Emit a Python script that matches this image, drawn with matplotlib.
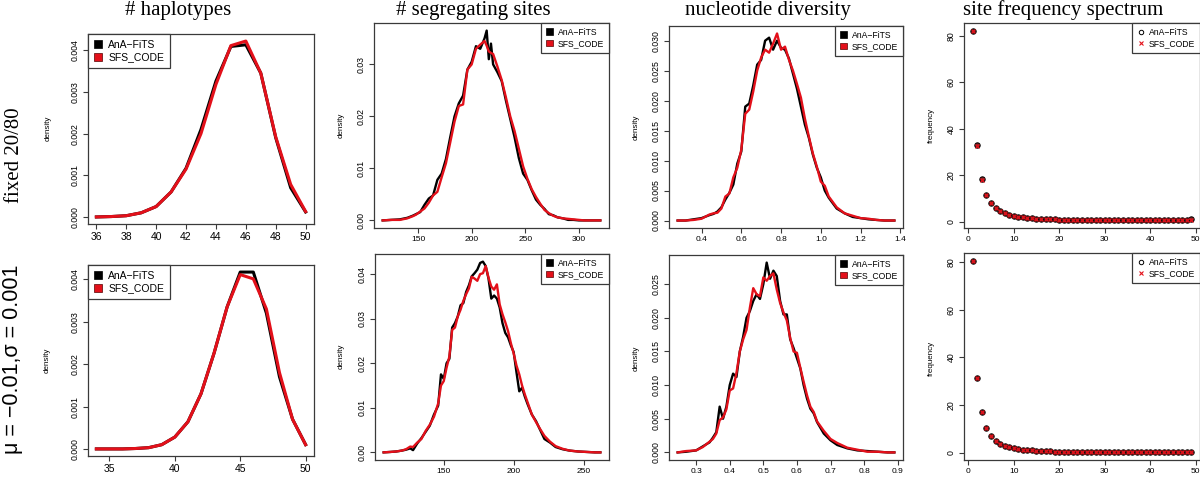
import numpy as np
import matplotlib
matplotlib.use("Agg")
import matplotlib.pyplot as plt
from matplotlib.patches import Patch
from matplotlib.lines import Line2D
from matplotlib.ticker import FormatStrFormatter

plt.rcParams['font.family'] = ['Liberation Sans', 'DejaVu Sans']

RED = '#e3101a'
W, H = 1200, 478

# ---- row 1: fixed 20/80 ----
hap1_x = [36, 37, 38, 39, 40, 41, 42, 43, 44, 45, 46, 47, 48, 49, 50]
hap1_ana = [0.0, 0.00001, 0.00003, 0.0001, 0.00025, 0.0006, 0.00117, 0.0021, 0.00326,
            0.00409, 0.00413, 0.00345, 0.0019, 0.0007, 0.00012]
hap1_sfs = [0.0, 0.00001, 0.00003, 0.0001, 0.00025, 0.0006, 0.00115, 0.0020, 0.00318,
            0.00411, 0.00422, 0.00345, 0.00192, 0.00078, 0.00013]

seg1_x = [117, 125, 133, 140, 145, 148, 152, 156, 160, 164, 168, 172, 176, 180, 184, 188,
          192, 196, 200, 204, 208, 212, 214, 216, 218, 220, 224, 228, 232, 236, 240, 244,
          248, 252, 256, 260, 264, 268, 272, 276, 280, 285, 290, 295, 300, 305, 310, 315, 320]
seg1_ana = [0.0, 0.0001, 0.0002, 0.0005, 0.0009, 0.0012, 0.0016, 0.0030, 0.0042, 0.0048,
            0.0078, 0.0090, 0.0118, 0.0160, 0.0200, 0.0225, 0.0240, 0.0290, 0.0305, 0.0335,
            0.0330, 0.0350, 0.0365, 0.0310, 0.0340, 0.0300, 0.0285, 0.0268, 0.0230, 0.0195,
            0.0160, 0.0120, 0.0090, 0.0078, 0.0058, 0.0040, 0.0030, 0.0022, 0.0012, 0.0010,
            0.0006, 0.0004, 0.0001, 0.0001, 0.0, 0.0, 0.0, 0.0, 0.0]
seg1_sfs = [0.0, 0.0001, 0.0001, 0.0004, 0.0008, 0.0011, 0.0017, 0.0023, 0.0034, 0.0048,
            0.0055, 0.0083, 0.0110, 0.0150, 0.0190, 0.0220, 0.0223, 0.0290, 0.0300, 0.0330,
            0.0338, 0.0345, 0.0336, 0.0325, 0.0322, 0.0320, 0.0296, 0.0270, 0.0236, 0.0200,
            0.0172, 0.0138, 0.0104, 0.0080, 0.0060, 0.0045, 0.0032, 0.0020, 0.0014, 0.0009,
            0.0006, 0.0004, 0.0003, 0.0002, 0.0001, 0.0, 0.0, 0.0, 0.0]

nuc1_x = [0.28, 0.32, 0.36, 0.40, 0.44, 0.46, 0.48, 0.50, 0.52, 0.54, 0.56, 0.58, 0.60,
          0.62, 0.64, 0.66, 0.68, 0.70, 0.72, 0.74, 0.76, 0.78, 0.80, 0.82, 0.84, 0.86,
          0.88, 0.90, 0.92, 0.94, 0.96, 0.98, 1.00, 1.02, 1.04, 1.08, 1.12, 1.16, 1.20,
          1.24, 1.28, 1.32, 1.37]
nuc1_ana = [0.0, 0.0, 0.0002, 0.0004, 0.0009, 0.0011, 0.0015, 0.0022, 0.0035, 0.0046,
            0.0060, 0.0095, 0.0115, 0.0190, 0.0195, 0.0225, 0.0260, 0.0268, 0.0300, 0.0305,
            0.0285, 0.0300, 0.0288, 0.0285, 0.0270, 0.0245, 0.0220, 0.0190, 0.0160, 0.0138,
            0.0110, 0.0088, 0.0072, 0.0050, 0.0038, 0.0020, 0.0012, 0.0006, 0.0004, 0.0002,
            0.0001, 0.0, 0.0]
nuc1_sfs = [0.0, 0.0, 0.0001, 0.0003, 0.0010, 0.0012, 0.0013, 0.0020, 0.0040, 0.0045,
            0.0072, 0.0088, 0.0118, 0.0178, 0.0185, 0.0215, 0.0250, 0.0272, 0.0285, 0.0280,
            0.0295, 0.0312, 0.0285, 0.0290, 0.0268, 0.0250, 0.0228, 0.0205, 0.0170, 0.0140,
            0.0112, 0.0090, 0.0065, 0.0058, 0.0040, 0.0022, 0.0012, 0.0008, 0.0004, 0.0003,
            0.0001, 0.0, 0.0]

sfs_bins = list(range(1, 50))
sfs1_ana = [82.0, 33.0, 18.3, 11.8, 8.3, 6.2, 4.8, 3.9, 3.2, 2.7, 2.3, 2.0, 1.8, 1.6, 1.5,
            1.4, 1.3, 1.2, 1.1, 1.05, 1.0, 0.95, 0.9, 0.88, 0.85, 0.82, 0.8, 0.78, 0.76,
            0.75, 0.74, 0.73, 0.72, 0.72, 0.71, 0.71, 0.71, 0.72, 0.72, 0.73, 0.74, 0.75,
            0.77, 0.79, 0.82, 0.86, 0.9, 0.97, 1.1]
sfs1_sfs = [82.2, 32.8, 18.2, 11.7, 8.3, 6.1, 4.8, 3.9, 3.2, 2.7, 2.3, 2.0, 1.8, 1.6, 1.5,
            1.4, 1.3, 1.2, 1.1, 1.05, 1.0, 0.95, 0.9, 0.87, 0.84, 0.82, 0.8, 0.78, 0.76,
            0.75, 0.74, 0.73, 0.72, 0.71, 0.71, 0.71, 0.71, 0.71, 0.72, 0.73, 0.74, 0.75,
            0.77, 0.79, 0.82, 0.85, 0.9, 0.96, 1.08]

# ---- row 2: mu = -0.01, sigma = 0.001 ----
hap2_x = [34, 35, 36, 37, 38, 39, 40, 41, 42, 43, 44, 45, 46, 47, 48, 49, 50]
hap2_ana = [0.0, 0.0, 0.0, 0.00001, 0.00003, 0.0001, 0.00028, 0.00064, 0.0013, 0.00226,
            0.00335, 0.00417, 0.00417, 0.0032, 0.0017, 0.0007, 0.0001]
hap2_sfs = [0.0, 0.0, 0.0, 0.00001, 0.00003, 0.0001, 0.00028, 0.00064, 0.0013, 0.00226,
            0.00335, 0.00411, 0.00401, 0.0033, 0.0018, 0.0007, 0.0001]

seg2_x = [107, 112, 116, 120, 123, 126, 128, 131, 134, 137, 140, 143, 146, 148, 150, 152,
          154, 156, 158, 160, 162, 164, 166, 168, 170, 172, 174, 176, 178, 180, 182, 184,
          186, 188, 190, 192, 194, 196, 198, 200, 202, 204, 206, 208, 210, 213, 216, 219,
          222, 226, 230, 235, 240, 246, 252, 258, 262]
seg2_ana = [0.0, 0.0001, 0.0002, 0.0004, 0.0006, 0.0009, 0.0005, 0.0020, 0.0032, 0.0046,
            0.0060, 0.0085, 0.0105, 0.0175, 0.0165, 0.0200, 0.0210, 0.0280, 0.0290, 0.0305,
            0.0330, 0.0335, 0.0360, 0.0375, 0.0395, 0.0402, 0.0410, 0.0425, 0.0428, 0.0418,
            0.0390, 0.0345, 0.0352, 0.0345, 0.0325, 0.0290, 0.0268, 0.0258, 0.0240, 0.0225,
            0.0180, 0.0137, 0.0145, 0.0125, 0.0108, 0.0085, 0.0070, 0.0050, 0.0030, 0.0022,
            0.0012, 0.0007, 0.0004, 0.0002, 0.0001, 0.0, 0.0]
seg2_sfs = [0.0, 0.0001, 0.0002, 0.0004, 0.0007, 0.0013, 0.0012, 0.0022, 0.0030, 0.0048,
            0.0062, 0.0080, 0.0110, 0.0150, 0.0160, 0.0190, 0.0215, 0.0275, 0.0280, 0.0305,
            0.0320, 0.0340, 0.0355, 0.0368, 0.0394, 0.0390, 0.0385, 0.0400, 0.0402, 0.0418,
            0.0392, 0.0372, 0.0365, 0.0377, 0.0332, 0.0310, 0.0292, 0.0272, 0.0245, 0.0222,
            0.0195, 0.0175, 0.0150, 0.0130, 0.0112, 0.0085, 0.0068, 0.0052, 0.0037, 0.0024,
            0.0014, 0.0008, 0.0004, 0.0002, 0.0001, 0.0, 0.0]

nuc2_x = [0.245, 0.27, 0.30, 0.32, 0.34, 0.35, 0.36, 0.37, 0.38, 0.39, 0.40, 0.41, 0.42,
          0.43, 0.44, 0.45, 0.46, 0.47, 0.48, 0.49, 0.50, 0.51, 0.52, 0.53, 0.54, 0.55,
          0.56, 0.57, 0.58, 0.59, 0.60, 0.61, 0.62, 0.63, 0.64, 0.65, 0.66, 0.68, 0.70,
          0.72, 0.75, 0.78, 0.81, 0.84, 0.87, 0.89]
nuc2_ana = [0.0, 0.0001, 0.0003, 0.0009, 0.0015, 0.0022, 0.0030, 0.0068, 0.0050, 0.0068,
            0.0100, 0.0117, 0.0112, 0.0150, 0.0172, 0.0200, 0.0210, 0.0225, 0.0235, 0.0228,
            0.0250, 0.0282, 0.0258, 0.0270, 0.0262, 0.0225, 0.0205, 0.0205, 0.0168, 0.0155,
            0.0140, 0.0125, 0.0100, 0.0080, 0.0065, 0.0058, 0.0045, 0.0028, 0.0018, 0.0011,
            0.0006, 0.0003, 0.0002, 0.0001, 0.0, 0.0]
nuc2_sfs = [0.0, 0.0002, 0.0003, 0.0008, 0.0016, 0.0020, 0.0028, 0.0048, 0.0052, 0.0064,
            0.0092, 0.0095, 0.0118, 0.0150, 0.0168, 0.0182, 0.0215, 0.0244, 0.0235, 0.0232,
            0.0260, 0.0255, 0.0262, 0.0266, 0.0242, 0.0222, 0.0208, 0.0196, 0.0170, 0.0150,
            0.0148, 0.0126, 0.0105, 0.0085, 0.0068, 0.0060, 0.0046, 0.0032, 0.0020, 0.0014,
            0.0007, 0.0004, 0.0001, 0.0001, 0.0, 0.0]

sfs2_ana = [80.3, 31.5, 17.0, 10.6, 7.2, 5.2, 3.9, 3.0, 2.4, 2.0, 1.7, 1.45, 1.25, 1.1,
            0.95, 0.85, 0.77, 0.7, 0.64, 0.59, 0.55, 0.51, 0.48, 0.45, 0.43, 0.41, 0.39,
            0.37, 0.36, 0.35, 0.34, 0.33, 0.32, 0.32, 0.31, 0.31, 0.3, 0.3, 0.3, 0.3, 0.3,
            0.3, 0.3, 0.3, 0.3, 0.31, 0.31, 0.32, 0.33]
sfs2_sfs = [80.5, 31.3, 17.1, 10.5, 7.1, 5.2, 3.8, 3.0, 2.4, 2.0, 1.7, 1.45, 1.25, 1.1,
            0.95, 0.85, 0.77, 0.7, 0.64, 0.59, 0.55, 0.51, 0.48, 0.45, 0.43, 0.41, 0.39,
            0.37, 0.36, 0.35, 0.34, 0.33, 0.32, 0.31, 0.31, 0.31, 0.3, 0.3, 0.3, 0.3, 0.3,
            0.3, 0.3, 0.3, 0.3, 0.3, 0.31, 0.32, 0.33]

titles = ['# haplotypes', '# segregating sites', 'nucleotide diversity', 'site frequency spectrum']
row_labels = ['fixed 20/80', 'μ = −0.01,σ = 0.001']
legend_labels = ['AnA−FiTS', 'SFS_CODE']


def rect(x0, x1, ytop, ybot):
    return [x0 / W, 1 - ybot / H, (x1 - x0) / W, (ybot - ytop) / H]


def style(ax, xticks, yticks, yfmt, xsize=6, ysize=6.3):
    for s in ax.spines.values():
        s.set_color('#3a3a3a')
        s.set_linewidth(0.9)
    ax.set_xticks(xticks)
    ax.set_yticks(yticks)
    if yfmt:
        ax.yaxis.set_major_formatter(FormatStrFormatter(yfmt))
    ax.tick_params(axis='both', direction='out', length=3.5, width=0.8, color='#3a3a3a')
    ax.tick_params(axis='x', labelsize=xsize, pad=2.5)
    ax.tick_params(axis='y', labelsize=ysize, pad=2.5)
    for t in ax.get_yticklabels():
        t.set_rotation(90)
        t.set_va('center')
    ax.margins(0.04)


def density_panel(pos, x, a, b, xticks, yticks, yfmt, lw, leg_loc, leg_size, xsize=6, ysize=6.3):
    ax = fig.add_axes(pos)
    ax.plot(x, a, color='black', lw=lw, solid_joinstyle='round')
    ax.plot(x, b, color=RED, lw=lw, solid_joinstyle='round')
    style(ax, xticks, yticks, yfmt, xsize, ysize)
    handles = [Patch(facecolor='black', edgecolor='black', lw=0.5),
               Patch(facecolor=RED, edgecolor='#550000', lw=0.5)]
    leg = ax.legend(handles, legend_labels, loc=leg_loc, fontsize=leg_size, fancybox=False,
                    borderaxespad=0, framealpha=1, edgecolor='#3a3a3a',
                    handlelength=0.8, handleheight=0.8, handletextpad=0.6,
                    labelspacing=0.25, borderpad=0.55)
    leg.get_frame().set_linewidth(0.9)
    return ax


def sfs_panel(pos, a, b):
    ax = fig.add_axes(pos)
    ax.plot(sfs_bins, a, ls='none', marker='o', ms=3.8, mfc='#8a2a2a', mec='black', mew=0.8)
    ax.plot(sfs_bins, b, ls='none', marker='x', ms=3.0, mec=RED, mew=0.9)
    style(ax, [0, 10, 20, 30, 40, 50], [0, 20, 40, 60, 80], None)
    handles = [Line2D([], [], ls='none', marker='o', ms=3.2, mfc='none', mec='black', mew=0.7),
               Line2D([], [], ls='none', marker='x', ms=3.0, mec=RED, mew=0.8)]
    leg = ax.legend(handles, legend_labels, loc='upper right', fontsize=6.2, fancybox=False,
                    borderaxespad=0, framealpha=1, edgecolor='#3a3a3a',
                    handlelength=0.8, handletextpad=0.5, labelspacing=0.25, borderpad=0.6)
    leg.get_frame().set_linewidth(0.9)
    return ax


fig = plt.figure(figsize=(12, 4.78), dpi=100)

# row 1
density_panel(rect(88, 314, 34, 224), hap1_x, hap1_ana, hap1_sfs, list(range(36, 51, 2)),
              [0, 0.001, 0.002, 0.003, 0.004], '%.3f', 2.2, 'upper left', 7.5, xsize=7.5)
density_panel(rect(374, 609, 23, 228), seg1_x, seg1_ana, seg1_sfs, [150, 200, 250, 300],
              [0, 0.01, 0.02, 0.03], '%.2f', 1.7, 'upper right', 6.2)
density_panel(rect(669, 903, 26, 228), nuc1_x, nuc1_ana, nuc1_sfs, [0.4, 0.6, 0.8, 1.0, 1.2, 1.4],
              [0, 0.005, 0.01, 0.015, 0.02, 0.025, 0.03], '%.3f', 1.7, 'upper right', 6.2)
sfs_panel(rect(964, 1200, 23, 228), sfs1_ana, sfs1_sfs)

# row 2
density_panel(rect(88, 314, 265, 456), hap2_x, hap2_ana, hap2_sfs, [35, 40, 45, 50],
              [0, 0.001, 0.002, 0.003, 0.004], '%.3f', 2.2, 'upper left', 7.5, xsize=7.5)
density_panel(rect(375, 609, 254, 460), seg2_x, seg2_ana, seg2_sfs, [150, 200, 250],
              [0, 0.01, 0.02, 0.03, 0.04], '%.2f', 1.7, 'upper right', 6.2)
density_panel(rect(669, 903, 255, 460), nuc2_x, nuc2_ana, nuc2_sfs,
              [0.3, 0.4, 0.5, 0.6, 0.7, 0.8, 0.9],
              [0, 0.005, 0.01, 0.015, 0.02, 0.025], '%.3f', 1.7, 'upper right', 6.2)
sfs_panel(rect(964, 1200, 253, 460), sfs2_ana, sfs2_sfs)

# titles
for cx, t in zip([178, 473, 768, 1063], titles):
    fig.text(cx / W, 1 - 15 / H, t, ha='center', va='baseline', fontsize=15,
             family='Liberation Serif')

# row labels
fig.text(15 / W, 1 - 155 / H, row_labels[0], rotation=90, ha='center', va='center',
         fontsize=15, family='Liberation Serif')
fig.text(13 / W, 1 - 359 / H, row_labels[1], rotation=90, ha='center', va='center',
         fontsize=15.5, family=['Liberation Sans', 'DejaVu Sans'])

# y axis labels
for x, y, lab in [(48, 128, 'density'), (341, 125, 'density'), (636, 127, 'density'),
                  (931, 125, 'frequency'), (47, 360, 'density'), (341, 356, 'density'),
                  (636, 358, 'density'), (931, 358, 'frequency')]:
    fig.text(x / W, 1 - y / H, lab, rotation=90, ha='center', va='center', fontsize=5.8)

fig.savefig('out.png', dpi=100)
